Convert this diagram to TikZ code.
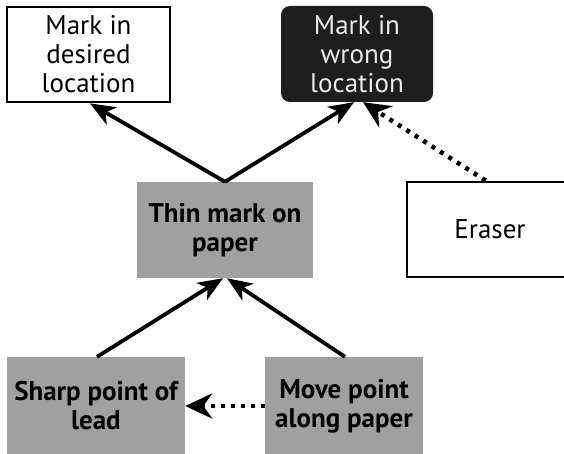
\documentclass[tikz,border=0pt]{standalone}
\usepackage{fontspec}
\setmainfont{PT Sans}
\usetikzlibrary{arrows.meta,calc}
\definecolor{boxgray}{RGB}{160,160,160}
\definecolor{boxdark}{RGB}{30,30,30}
\definecolor{lighttext}{RGB}{235,235,235}
\begin{document}
\begin{tikzpicture}[x=1pt,y=-1pt,
  every node/.style={align=center,inner sep=0pt,font=\fontsize{27}{29}\selectfont},
  plainbox/.style={draw=black,line width=2.8pt,fill=white},
  darkbox/.style={fill=boxdark,rounded corners=9pt,text=lighttext},
  graybox/.style={fill=boxgray,font=\fontsize{27}{29}\selectfont\bfseries},
  link/.style={line width=3.8pt,-{Stealth[length=25pt,width=20pt,inset=7pt]}},
  dotlink/.style={line width=4.5pt,dash pattern=on 4pt off 6pt,
    -{Stealth[length=27pt,width=25pt,inset=9pt]}}]
\useasboundingbox (0,0) rectangle (564,454);
\clip (0,0) rectangle (564,454);
% outcome boxes
\node[plainbox,minimum width=163pt,minimum height=95pt] (desired) at (88.5,54.5) {Mark in\\desired\\location};
\node[darkbox,minimum width=152pt,minimum height=96pt] (wrong) at (357,54) {Mark in\\wrong\\location};
% central effect
\node[graybox,minimum width=176pt,minimum height=96pt] (thin) at (225,230) {Thin mark on\\paper};
% remedy, running off the right edge
\node[plainbox,minimum width=166pt,minimum height=95pt] (eraser) at (490,229.5) {Eraser};
% causes
\node[graybox,minimum width=178pt,minimum height=98pt] (sharp) at (96,406) {Sharp point of\\lead};
\node[graybox,minimum width=158pt,minimum height=98pt] (move) at (344,406) {Move point\\along paper};
% connectors
\draw[link] (thin.north) -- ($(desired.south)+(1.5,0)$);
\draw[link] (thin.north) -- ($(wrong.south)+(-3,0)$);
\draw[dotlink] ($(eraser.north west)+(80,0)$) -- ($(wrong.south)+(6,0)$);
\draw[link] ($(sharp.north)+(1,0)$) -- ($(thin.south)+(-2,0)$);
\draw[link] ($(move.north)+(1,0)$) -- ($(thin.south)+(2,0)$);
\draw[dotlink] (move.west) -- (sharp.east);
\end{tikzpicture}
\end{document}
